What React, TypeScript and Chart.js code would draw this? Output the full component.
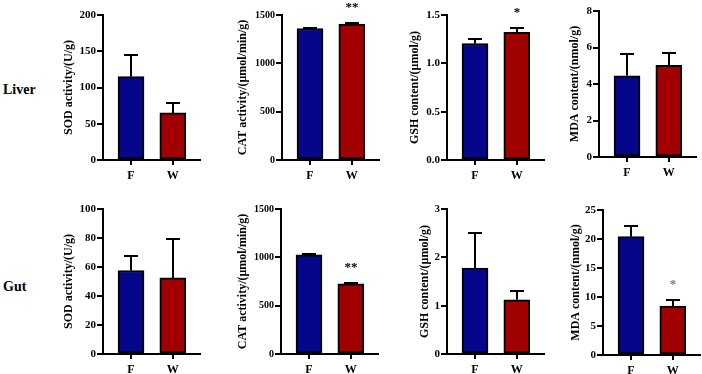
import React, { useEffect, useRef } from 'react';
import { Chart, registerables } from 'chart.js';

Chart.register(...registerables);

// Groups on the x axis
const groups = ['F', 'W'];
const rowLabels = ['Liver', 'Gut'];

// Liver: means and SD (upper error bar)
const liverSOD = [115, 65];
const liverSODErr = [30, 14];
const liverCAT = [1360, 1405];
const liverCATErr = [6, 9];
const liverGSH = [1.205, 1.32];
const liverGSHErr = [0.045, 0.045];
const liverMDA = [4.45, 5.02];
const liverMDAErr = [1.22, 0.7];

// Gut: means and SD
const gutSOD = [57.6, 52.5];
const gutSODErr = [9.8, 26.9];
const gutCAT = [1025, 725];
const gutCATErr = [8, 11];
const gutGSH = [1.78, 1.12];
const gutGSHErr = [0.72, 0.19];
const gutMDA = [20.4, 8.45];
const gutMDAErr = [1.8, 1.0];

// Significance marks above each group
const liverCATMarks = ['', '**'];
const liverGSHMarks = ['', '*'];
const gutCATMarks = ['', '**'];
const gutMDAMarks = ['', '*'];
const noMarks = ['', ''];

// Axis titles and y-axis ranges
const titles = [
  'SOD activity/(U/g)',
  'CAT activity/(μmol/min/g)',
  'GSH content/(μmol/g)',
  'MDA content/(nmol/g)',
];
const liverMax = [200, 1500, 1.5, 8];
const liverStep = [50, 500, 0.5, 2];
const gutMax = [100, 1500, 3, 25];
const gutStep = [20, 500, 1, 5];

const FONT = '"Liberation Serif", "Times New Roman", serif';
const BLUE = '#06068a';
const RED = '#a10000';

type Panel = {
  values: number[];
  errors: number[];
  marks: string[];
  markColor: string;
  title: string;
  max: number;
  step: number;
  decimals: number;
  tickSize: number;
  // layout in page pixels
  axisX: number;
  topY: number;
  botY: number;
  titleX: number;
};

const PAD_TOP = 15;
const X_AXIS_H = 24;
const PLOT_W = 97;
const X_MIN = -0.67;
const X_MAX = 1.65;

const panels: Panel[] = [
  { values: liverSOD, errors: liverSODErr, marks: noMarks, markColor: '#000', title: titles[0], max: liverMax[0], step: liverStep[0], decimals: 0, tickSize: 11, axisX: 103, topY: 15, botY: 160, titleX: 69 },
  { values: liverCAT, errors: liverCATErr, marks: liverCATMarks, markColor: '#000', title: titles[1], max: liverMax[1], step: liverStep[1], decimals: 0, tickSize: 10, axisX: 282, topY: 15, botY: 160, titleX: 243 },
  { values: liverGSH, errors: liverGSHErr, marks: liverGSHMarks, markColor: '#000', title: titles[2], max: liverMax[2], step: liverStep[2], decimals: 1, tickSize: 11, axisX: 447, topY: 15, botY: 160, titleX: 415 },
  { values: liverMDA, errors: liverMDAErr, marks: noMarks, markColor: '#000', title: titles[3], max: liverMax[3], step: liverStep[3], decimals: 0, tickSize: 11, axisX: 599, topY: 11, botY: 157, titleX: 575 },
  { values: gutSOD, errors: gutSODErr, marks: noMarks, markColor: '#000', title: titles[0], max: gutMax[0], step: gutStep[0], decimals: 0, tickSize: 11, axisX: 103, topY: 209, botY: 354, titleX: 69 },
  { values: gutCAT, errors: gutCATErr, marks: gutCATMarks, markColor: '#000', title: titles[1], max: gutMax[1], step: gutStep[1], decimals: 0, tickSize: 10, axisX: 281, topY: 209, botY: 354, titleX: 243 },
  { values: gutGSH, errors: gutGSHErr, marks: noMarks, markColor: '#000', title: titles[2], max: gutMax[2], step: gutStep[2], decimals: 0, tickSize: 11, axisX: 447, topY: 209, botY: 354, titleX: 425 },
  { values: gutMDA, errors: gutMDAErr, marks: gutMDAMarks, markColor: '#777', title: titles[3], max: gutMax[3], step: gutStep[3], decimals: 0, tickSize: 11, axisX: 603, topY: 210, botY: 355, titleX: 576 },
];

// Upper error bars with caps, plus significance asterisks
const errorBars = {
  id: 'errorBars',
  afterDatasetsDraw(chart: any, _args: any, opts: any) {
    const { ctx } = chart;
    const y = chart.scales.y;
    const meta = chart.getDatasetMeta(0);
    const data = chart.data.datasets[0].data as { x: number; y: number }[];
    ctx.save();
    ctx.strokeStyle = '#000';
    ctx.lineWidth = 2;
    meta.data.forEach((bar: any, i: number) => {
      const v = data[i].y;
      const e = opts.errors[i];
      const xp = Math.round(bar.x);
      const yBase = y.getPixelForValue(v);
      const yTop = Math.round(y.getPixelForValue(v + e));
      ctx.beginPath();
      ctx.moveTo(xp, yBase);
      ctx.lineTo(xp, yTop);
      ctx.moveTo(xp - 7, yTop);
      ctx.lineTo(xp + 7, yTop);
      ctx.stroke();
      const mark = opts.marks[i];
      if (mark) {
        ctx.fillStyle = opts.markColor;
        ctx.font = `bold 13px ${FONT}`;
        ctx.textAlign = 'center';
        ctx.textBaseline = 'alphabetic';
        ctx.fillText(mark, xp, yTop - 12);
      }
    });
    ctx.restore();
  },
};

function BarPanel({ p }: { p: Panel }) {
  const ref = useRef<HTMLCanvasElement>(null);
  const left = Math.round(p.titleX - 7.2);
  const yW = p.axisX - left;
  const top = p.topY - PAD_TOP;
  const width = yW + PLOT_W + 5;
  const height = p.botY - p.topY + PAD_TOP + X_AXIS_H;

  useEffect(() => {
    const chart = new Chart(ref.current!, {
      type: 'bar',
      data: {
        datasets: [
          {
            data: p.values.map((v, i) => ({ x: i, y: v })),
            backgroundColor: [BLUE, RED],
            borderColor: '#000',
            borderWidth: 2,
            borderSkipped: false,
            barThickness: 26,
          },
        ],
      },
      options: {
        animation: false,
        responsive: false,
        events: [],
        layout: { padding: { top: PAD_TOP, left: 0, right: 5, bottom: 0 } },
        plugins: {
          legend: { display: false },
          tooltip: { enabled: false },
          errorBars: { errors: p.errors, marks: p.marks, markColor: p.markColor },
        } as any,
        scales: {
          x: {
            type: 'linear',
            min: X_MIN,
            max: X_MAX,
            offset: false,
            bounds: 'data',
            afterBuildTicks: (s: any) => {
              s.ticks = groups.map((_, i) => ({ value: i }));
            },
            afterFit: (s: any) => {
              s.height = X_AXIS_H;
            },
            ticks: {
              callback: (v: any) => groups[v as number],
              color: '#000',
              padding: 4,
              maxRotation: 0,
              font: { family: FONT, size: 12, weight: 'bold' },
            },
            grid: {
              display: true,
              offset: false,
              drawOnChartArea: false,
              drawTicks: true,
              tickLength: 5,
              color: '#000',
              lineWidth: 2,
            },
            border: { display: true, color: '#000', width: 2 },
          },
          y: {
            min: 0,
            max: p.max,
            afterFit: (s: any) => {
              s.width = yW;
            },
            ticks: {
              stepSize: p.step,
              color: '#000',
              padding: 1,
              callback: (v: any) => Number(v).toFixed(p.decimals),
              font: { family: FONT, size: p.tickSize, weight: 'bold' },
            },
            grid: {
              display: true,
              drawOnChartArea: false,
              drawTicks: true,
              tickLength: 6,
              color: '#000',
              lineWidth: 2,
            },
            border: { display: true, color: '#000', width: 2 },
            title: {
              display: true,
              text: p.title,
              color: '#000',
              padding: 0,
              font: { family: FONT, size: 12, weight: 'bold', lineHeight: 1.2 },
            },
          },
        },
      },
      plugins: [errorBars],
    } as any);
    return () => chart.destroy();
  }, []);

  return (
    <canvas
      ref={ref}
      width={width}
      height={height}
      style={{ position: 'absolute', left, top, width, height }}
    />
  );
}

export default function App() {
  const labelStyle: React.CSSProperties = {
    position: 'absolute',
    left: 3,
    font: `bold 14px ${FONT}`,
    lineHeight: '14px',
    color: '#000',
    whiteSpace: 'nowrap',
  };
  return (
    <div
      style={{
        position: 'absolute',
        left: 0,
        top: 0,
        width: 702,
        height: 374,
        overflow: 'hidden',
        background: '#fff',
      }}
    >
      <div style={{ ...labelStyle, top: 83 }}>{rowLabels[0]}</div>
      <div style={{ ...labelStyle, top: 280 }}>{rowLabels[1]}</div>
      {panels.map((p, i) => (
        <BarPanel key={i} p={p} />
      ))}
    </div>
  );
}
